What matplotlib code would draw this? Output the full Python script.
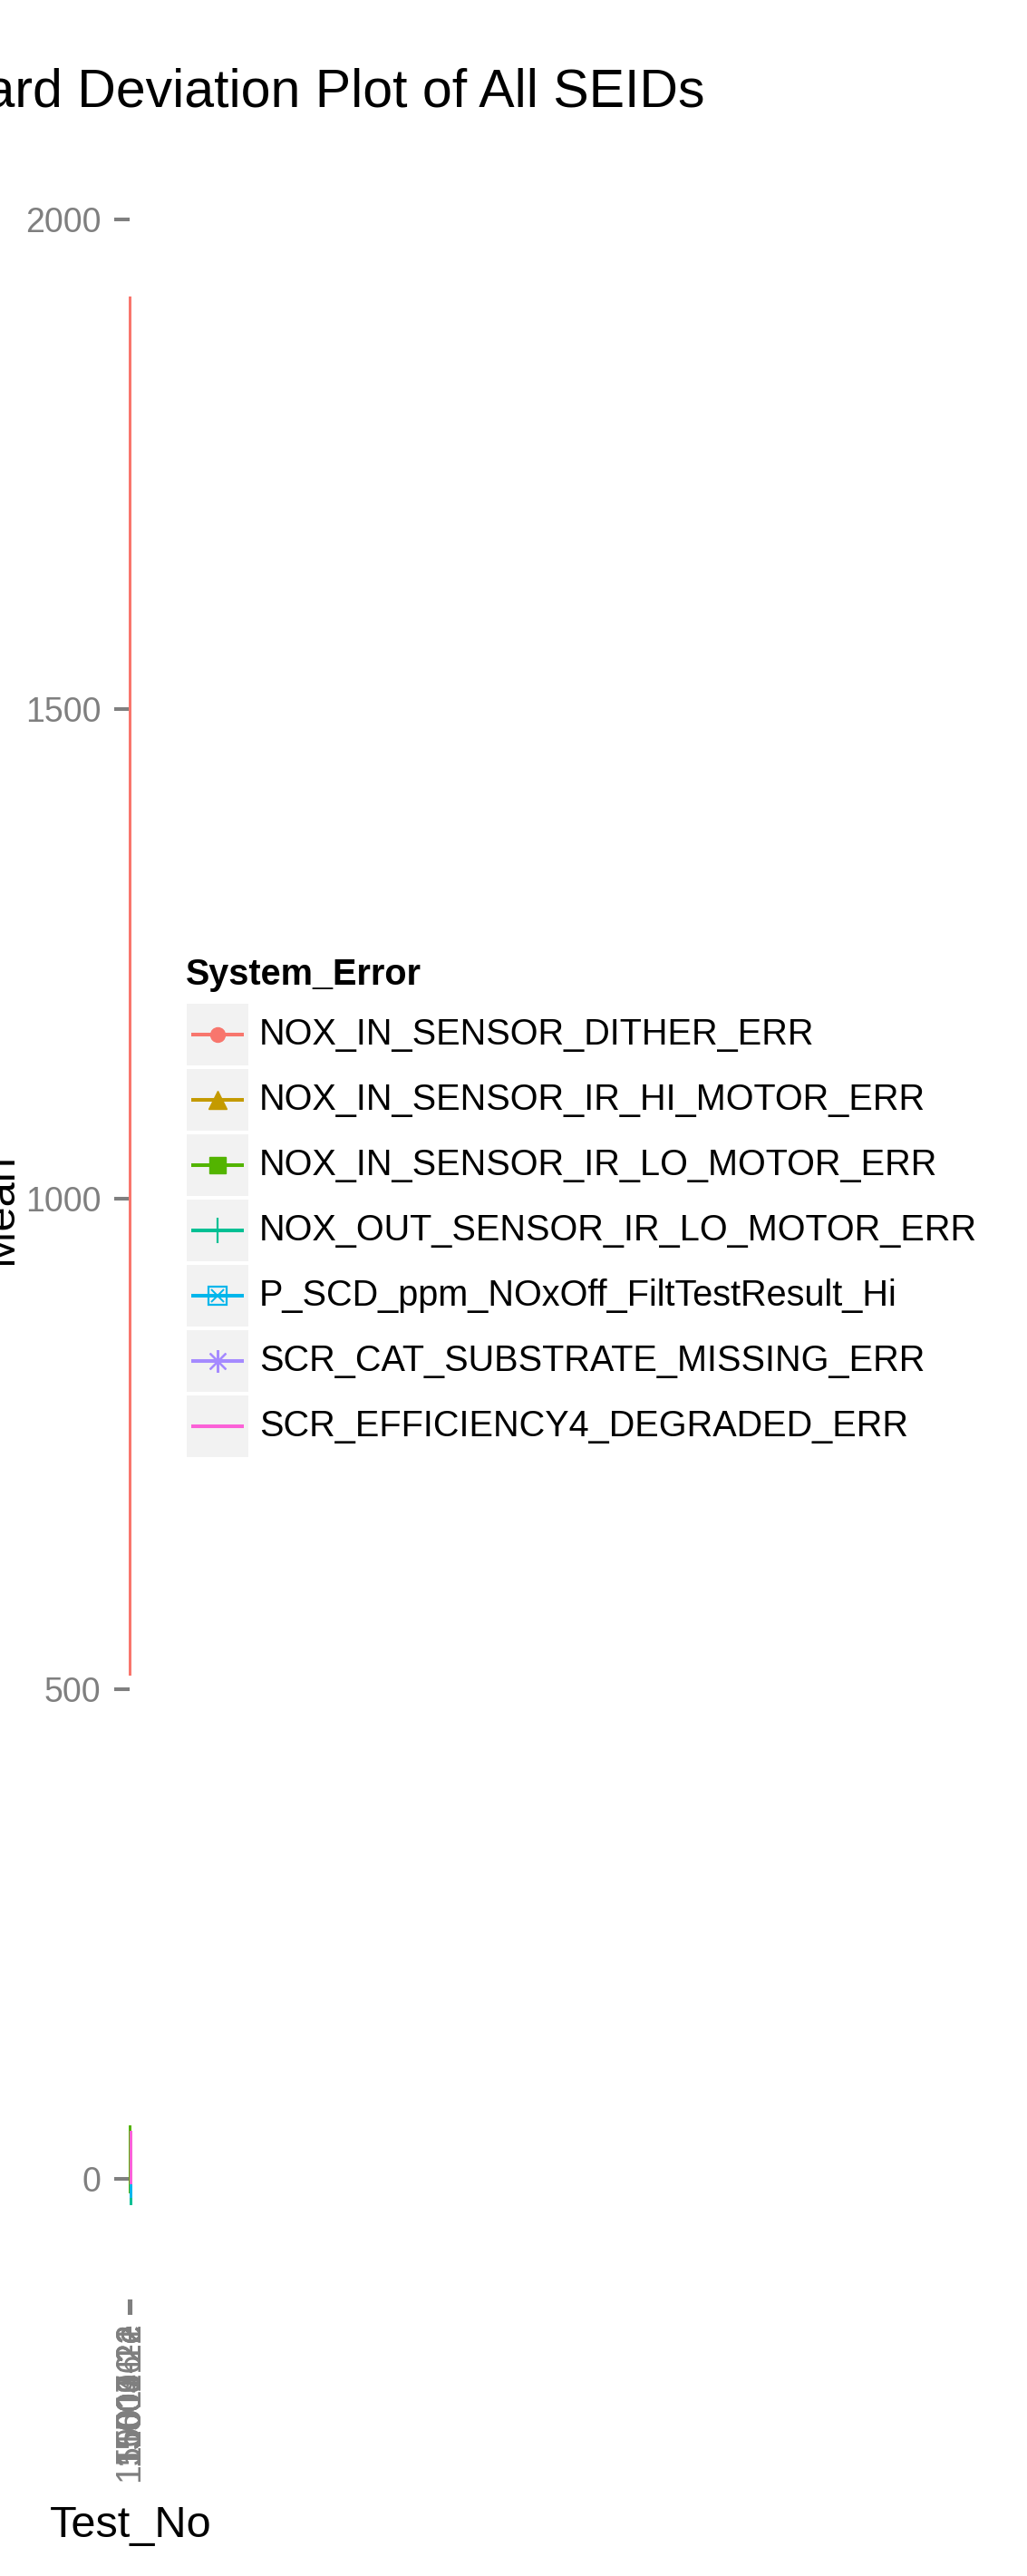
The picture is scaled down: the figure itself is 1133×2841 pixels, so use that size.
import numpy as np
import matplotlib
matplotlib.use("Agg")
import matplotlib.pyplot as plt
from matplotlib.patches import Rectangle

plt.rcParams['font.family'] = ['Liberation Sans', 'DejaVu Sans']

# data (mean +/- sd per system error)
system_error = ['NOX_IN_SENSOR_DITHER_ERR', 'NOX_IN_SENSOR_IR_HI_MOTOR_ERR',
                'NOX_IN_SENSOR_IR_LO_MOTOR_ERR', 'NOX_OUT_SENSOR_IR_LO_MOTOR_ERR',
                'P_SCD_ppm_NOxOff_FiltTestResult_Hi', 'SCR_CAT_SUBSTRATE_MISSING_ERR',
                'SCR_EFFICIENCY4_DEGRADED_ERR']
colors = ['#F8766D', '#C49A00', '#53B400', '#00C094', '#00B6EB', '#A58AFF', '#FB61D7']
test_no = ['150011-2e', '15003-12', '15004-2e', '15006-1', '150071-2', '15009-1e', '15011-2e']
series_test = [0, 1, 2, 3, 4, 5, 6]
means = [1217.5, 18, 20, 10, 15, 21, 22]
sds = [703.5, 22, 34, 36, 33.5, 24, 27]
y_ticks = [0, 500, 1000, 1500, 2000]

W, H = 1133, 2841
fig = plt.figure(figsize=(W / 100, H / 100), dpi=100)

lower = np.array(means) - np.array(sds)
upper = np.array(means) + np.array(sds)
pad = 0.05 * (upper.max() - lower.min())
ylim = (lower.min() - pad, upper.max() + pad)

# panel is squeezed to less than a pixel wide
top_px, bot_px = 222, 2536
ax = fig.add_axes([143.35 / W, 1 - bot_px / H, 0.3 / W, (bot_px - top_px) / H])
for i in range(len(system_error)):
    ax.vlines(series_test[i], lower[i], upper[i], color=colors[i], lw=0.75,
              clip_on=False, antialiased=False, snap=True)
ax.set_ylim(*ylim)
ax.set_xlim(-0.6, len(test_no) - 0.4)
ax.set_xticks(range(len(test_no)))
ax.set_xticklabels(test_no, rotation=90)
ax.set_yticks(y_ticks)
ax.set_yticklabels([str(t) for t in y_ticks])
for s in ax.spines.values():
    s.set_visible(False)
ax.tick_params(colors='#7F7F7F', labelcolor='#7F7F7F', labelsize=27,
               length=12.5, width=2.9, pad=10.5)
ax.tick_params(axis='x', pad=5)
ax.set_facecolor('white')

fig.text(778 / W, 1 - 118 / H, 'Mean and Standard Deviation Plot of All SEIDs',
         fontsize=42.5, ha='right', va='baseline', color='black')
fig.text(144 / W, 1 - 2798 / H, 'Test_No', fontsize=35, ha='center', va='baseline')
fig.text(23 / W, 1 - 1333 / H, 'Mean', fontsize=35, rotation=90, ha='right', va='center')

# legend
lg = fig.add_axes([0, 0, 1, 1])
lg.set_xlim(0, W)
lg.set_ylim(H, 0)
lg.axis('off')
lg.text(205, 1075, 'System_Error', fontsize=28.5, fontweight='bold', va='center', ha='left')
marker_specs = [
    dict(marker='o', ms=11.5),
    dict(marker='^', ms=15),
    dict(marker='s', ms=13),
    dict(marker='+', ms=20, mew=1.6),
    None,
    dict(marker=(8, 2, 0), ms=18, mew=1.6),
    None,
]
for i, name in enumerate(system_error):
    y0 = 1107 + i * 72
    yc = y0 + 34
    lg.add_patch(Rectangle((206, y0), 68, 68, facecolor='#F2F2F2', edgecolor='none'))
    lg.plot([211, 269], [yc, yc], color=colors[i], lw=2.9, solid_capstyle='butt')
    spec = marker_specs[i]
    if spec is not None:
        lg.plot([240], [yc], linestyle='none', color=colors[i], **spec)
    if i == 4:
        lg.plot([240], [yc], linestyle='none', marker='s', ms=14, mfc='none',
                mec=colors[i], mew=1.6)
        lg.plot([240], [yc], linestyle='none', marker='x', ms=10, color=colors[i], mew=1.4)
    lg.text(286, yc, name, fontsize=28.5, va='center', ha='left')

fig.savefig('out.png', dpi=100, facecolor='white')
